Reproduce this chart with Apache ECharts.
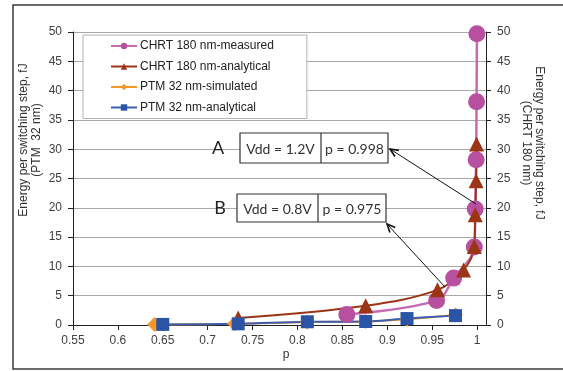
<!DOCTYPE html>
<html>
<head>
<meta charset="utf-8">
<script src="https://cdn.jsdelivr.net/npm/echarts@6/dist/echarts.min.js"></script>
<style>
  html, body { margin: 0; background: #fff; }
  #chart { width: 563px; height: 371px; }
</style>
</head>
<body>
<div id="chart"></div>
<script>
// x axis (p) ticks and data
const pTicks = [0.55, 0.6, 0.65, 0.7, 0.75, 0.8, 0.85, 0.9, 0.95, 1];

// CHRT 180 nm (secondary / right axis), fJ
const chrtMeasured = [
  [0.855, 1.8], [0.955, 4.2], [0.974, 8.0], [0.997, 13.3],
  [0.998, 19.8], [0.999, 28.2], [0.9995, 38.1], [0.9999, 49.7]
];
const chrtAnalytical = [
  [0.734, 1.2], [0.876, 3.3], [0.956, 6.0], [0.985, 9.4],
  [0.997, 13.4], [0.998, 18.8], [0.999, 24.6], [0.9995, 30.9]
];
// PTM 32 nm (primary / left axis), fJ
const ptmSimulated = [
  [0.641, 0.1], [0.73, 0.2], [0.811, 0.5], [0.876, 0.6], [0.922, 1.0], [0.976, 1.7]
];
const ptmAnalytical = [
  [0.65, 0.1], [0.734, 0.2], [0.811, 0.55], [0.876, 0.6], [0.922, 1.1], [0.976, 1.6]
];

const seriesNames = [
  'CHRT 180 nm-measured',
  'CHRT 180 nm-analytical',
  'PTM 32 nm-simulated',
  'PTM 32 nm-analytical'
];

const FONT = 'Liberation Sans, Arial, sans-serif';
const TXT = '#404040';

const chart = echarts.init(document.getElementById('chart'));

// open "V" arrow head
const arrow = (x1, y1, x2, y2) => {
  const dx = x2 - x1, dy = y2 - y1;
  const len = Math.sqrt(dx * dx + dy * dy);
  const ux = dx / len, uy = dy / len;
  const size = 9, a = 0.42;
  const wing = (s) => [
    x2 - size * (ux * Math.cos(a) - s * uy * Math.sin(a)),
    y2 - size * (uy * Math.cos(a) + s * ux * Math.sin(a))
  ];
  return [
    { type: 'line', shape: { x1, y1, x2, y2 }, style: { stroke: '#111', lineWidth: 1 }, z: 50 },
    { type: 'polyline', shape: { points: [wing(1), [x2, y2], wing(-1)] },
      style: { stroke: '#111', lineWidth: 1.6, fill: null }, z: 50 }
  ];
};

const box = (letter, lx, x, y, w, h, div, t1, t2) => [
  { type: 'text', x: lx, y: y + h / 2, z: 40,
    style: { text: letter, font: '18px Lato, sans-serif', fill: '#222', align: 'center', verticalAlign: 'middle' } },
  { type: 'rect', shape: { x, y, width: w, height: h }, z: 40,
    style: { fill: '#fff', stroke: '#333', lineWidth: 1.2 } },
  { type: 'line', shape: { x1: div, y1: y, x2: div, y2: y + h }, z: 41,
    style: { stroke: '#333', lineWidth: 1.2 } },
  { type: 'text', x: (x + div) / 2, y: y + h / 2 + 1, z: 42,
    style: { text: t1, font: '14px Lato, sans-serif', fill: '#333', align: 'center', verticalAlign: 'middle' } },
  { type: 'text', x: (div + x + w) / 2, y: y + h / 2 + 1, z: 42,
    style: { text: t2, font: '14px Lato, sans-serif', fill: '#333', align: 'center', verticalAlign: 'middle' } }
];

const option = {
  backgroundColor: '#fff',
  animation: false,
  grid: { left: 73, right: 77, top: 32, bottom: 46 },
  legend: {
    data: seriesNames,
    orient: 'vertical',
    left: 83,
    top: 35,
    padding: [4, 33, 4, 27],
    itemWidth: 26,
    itemHeight: 8,
    itemGap: 6.5,
    selectedMode: false,
    backgroundColor: '#fff',
    borderColor: '#b4b4b4',
    borderWidth: 1,
    textStyle: { fontFamily: FONT, fontSize: 12, color: '#222', lineHeight: 14, padding: [0, 0, 0, -2] }
  },
  xAxis: {
    type: 'value',
    min: 0.55,
    max: 1.01,
    axisLine: { onZero: false, lineStyle: { color: '#222', width: 1 } },
    axisTick: { show: true, length: 5, customValues: pTicks, lineStyle: { color: '#222' } },
    axisLabel: { customValues: pTicks, color: TXT, fontFamily: FONT, fontSize: 12, margin: 10 },
    splitLine: { show: false }
  },
  yAxis: [{
    type: 'value',
    position: 'left',
    min: 0,
    max: 50,
    interval: 5,
    axisLine: { show: true, lineStyle: { color: '#222', width: 1 } },
    axisTick: { show: true, length: 5, lineStyle: { color: '#222' } },
    axisLabel: { color: TXT, fontFamily: FONT, fontSize: 12, margin: 11 },
    splitLine: { show: true, lineStyle: { color: '#a8a8a8', width: 1 } }
  }, {
    type: 'value',
    position: 'right',
    min: 0,
    max: 50,
    interval: 5,
    axisLine: { show: true, lineStyle: { color: '#222', width: 1 } },
    axisTick: { show: true, length: 5, lineStyle: { color: '#222' } },
    axisLabel: { color: TXT, fontFamily: FONT, fontSize: 12, margin: 11 },
    splitLine: { show: false }
  }],
  series: [{
    name: seriesNames[0],
    type: 'line',
    yAxisIndex: 1,
    data: chrtMeasured,
    smooth: 0.35,
    symbol: 'circle',
    symbolSize: 17,
    clip: false,
    itemStyle: { color: '#b7509f' },
    lineStyle: { color: '#c76ab6', width: 2.5 }
  }, {
    name: seriesNames[1],
    type: 'line',
    yAxisIndex: 1,
    data: chrtAnalytical,
    smooth: 0.35,
    symbol: 'triangle',
    symbolSize: 15,
    clip: false,
    itemStyle: { color: '#9b3516' },
    lineStyle: { color: '#9b3516', width: 2 }
  }, {
    name: seriesNames[2],
    type: 'line',
    yAxisIndex: 0,
    data: ptmSimulated,
    smooth: 0.35,
    symbol: 'diamond',
    symbolSize: 15,
    itemStyle: { color: '#f7962a' },
    lineStyle: { color: '#f7962a', width: 2 }
  }, {
    name: seriesNames[3],
    type: 'line',
    yAxisIndex: 0,
    data: ptmAnalytical,
    smooth: 0.35,
    symbol: 'rect',
    symbolSize: 13,
    itemStyle: { color: '#2a55a6' },
    lineStyle: { color: '#3a5fb2', width: 2 }
  }],
  graphic: [
    { type: 'rect', shape: { x: 13, y: 5, width: 560, height: 364 }, z: -10, silent: true,
      style: { fill: null, stroke: '#3a3a3a', lineWidth: 1.5 } },
    { type: 'text', x: 30, y: 140, rotation: Math.PI / 2,
      style: { text: 'Energy per switching step, fJ\n(PTM  32 nm)', font: '12px ' + FONT, fill: '#333',
        align: 'center', verticalAlign: 'middle', lineHeight: 13 } },
    { type: 'text', x: 533, y: 143, rotation: -Math.PI / 2,
      style: { text: 'Energy per switching step, fJ\n(CHRT 180 nm)', font: '12px ' + FONT, fill: '#333',
        align: 'center', verticalAlign: 'middle', lineHeight: 13 } },
    { type: 'text', x: 286, y: 355,
      style: { text: 'p', font: '12px ' + FONT, fill: '#333', align: 'center', verticalAlign: 'middle' } },
    ...box('A', 218, 240, 133, 148, 30, 321, 'Vdd = 1.2V', 'p = 0.998'),
    ...box('B', 220, 237, 194, 149, 28, 318, 'Vdd = 0.8V', 'p = 0.975'),
    ...arrow(476, 204, 390, 149),
    ...arrow(445, 287, 387, 224)
  ]
};

chart.setOption(option);
</script>
</body>
</html>
